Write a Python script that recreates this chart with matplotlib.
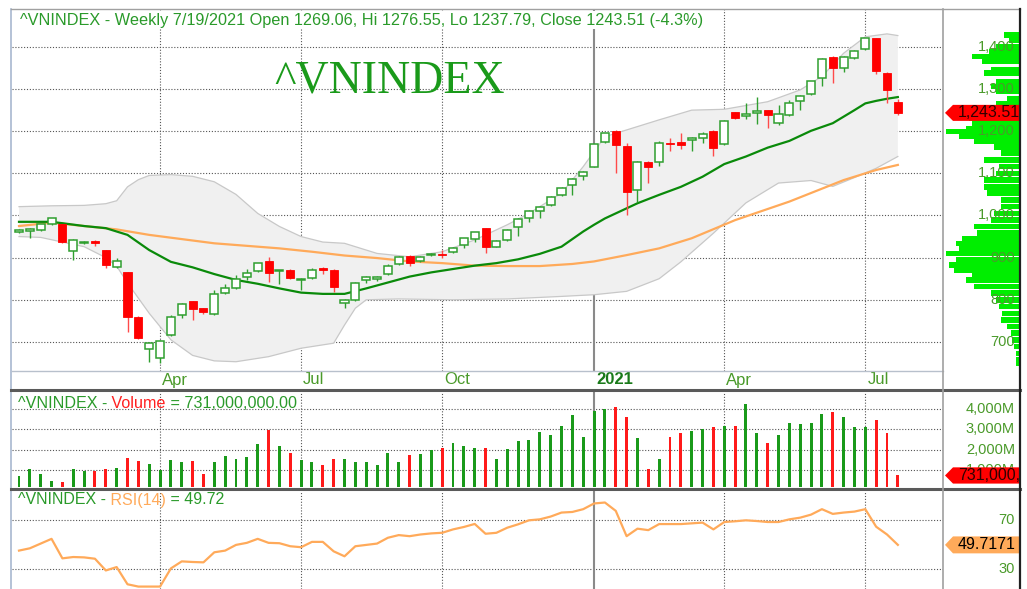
import numpy as np

import matplotlib
import matplotlib.pyplot as plt

from matplotlib.lines import Line2D
from matplotlib.patches import Polygon
from matplotlib.transforms import blended_transform_factory

matplotlib.use('Agg')

plt.rcParams['font.family'] = ['Liberation Sans', 'DejaVu Sans']

W, H = 1027, 589

# Weekly bars, 30 Dec 2019 .. 19 Jul 2021 (bar index on the x axis)
opens = [962, 963, 965, 979, 979, 916, 935, 940, 918, 877,
         865, 760, 684, 663, 716, 764, 796, 780, 766, 817,
         827, 853, 869, 891, 868, 871, 848, 851, 876, 871,
         793, 800, 846, 849, 861, 884, 905, 892, 906, 909,
         913, 930, 944, 970, 926, 942, 972, 993, 1011, 1025,
         1048, 1073, 1094, 1115, 1175, 1201, 1166, 1061, 1128, 1128,
         1172, 1175, 1180, 1185, 1201, 1170, 1245, 1237, 1244, 1250,
         1220, 1239, 1272, 1288, 1327, 1376, 1351, 1373, 1395, 1420,
         1339, 1269.06]
highs = [968, 970, 980, 995, 980, 944, 940, 941, 919, 898,
         866, 762, 700, 705, 764, 792, 797, 781, 823, 838,
         859, 872, 888, 902, 871, 872, 851, 876, 877, 872,
         803, 842, 857, 856, 885, 903, 906, 903, 912, 917,
         925, 947, 962, 971, 942, 967, 993, 1013, 1023, 1046,
         1067, 1088, 1106, 1170, 1196, 1202, 1171, 1130, 1129, 1177,
         1183, 1195, 1186, 1199, 1203, 1226, 1246, 1268, 1282, 1251,
         1262, 1273, 1286, 1320, 1374, 1378, 1379, 1393, 1421, 1422,
         1341, 1276.55]
lows = [958, 946, 964, 978, 935, 895, 933, 928, 875, 875,
        724, 708, 653, 649, 714, 756, 752, 767, 765, 814,
        825, 847, 867, 843, 838, 850, 823, 849, 861, 819,
        781, 798, 841, 845, 859, 882, 881, 890, 904, 900,
        911, 924, 936, 912, 925, 940, 952, 985, 993, 1023,
        1046, 1049, 1084, 1114, 1173, 1100, 1001, 1033, 1077, 1118,
        1152, 1157, 1154, 1173, 1140, 1168, 1228, 1228, 1217, 1207,
        1215, 1237, 1250, 1286, 1307, 1314, 1340, 1371, 1393, 1336,
        1266, 1237.79]
closes = [965, 969, 979, 993, 936, 942, 938, 934, 883, 892,
          760, 710, 698, 703, 759, 790, 778, 770, 814, 827,
          850, 864, 887, 864, 870, 851, 850, 871, 871, 830,
          800, 841, 853, 855, 879, 902, 888, 902, 909, 907,
          924, 946, 960, 926, 940, 966, 991, 1011, 1021, 1045,
          1066, 1086, 1104, 1169, 1195, 1167, 1055, 1128, 1114, 1173,
          1169, 1167, 1184, 1194, 1161, 1224, 1231, 1240, 1249, 1239,
          1241, 1266, 1284, 1319, 1372, 1351, 1377, 1391, 1420, 1344,
          1298, 1243.51]

# Volume, millions of shares
volumes = [720, 1040, 810, 460, 390, 1040, 940, 940, 1040, 1090,
           1590, 1430, 1320, 980, 1480, 1380, 1430, 780, 1370, 1710,
           1540, 1640, 2260, 2980, 2200, 1820, 1480, 1380, 1270, 1540,
           1530, 1370, 1370, 1250, 1850, 1370, 1760, 1800, 1980, 2080,
           2340, 2180, 2070, 2070, 1530, 2020, 2410, 2470, 2890, 2730,
           3190, 3710, 2620, 3930, 4000, 4100, 3610, 2570, 1040, 1530,
           2620, 2830, 2910, 3020, 3110, 3190, 3190, 4260, 2830, 2340,
           2730, 3330, 3270, 3330, 3760, 3840, 3590, 3110, 3110, 3480,
           2830, 731]

rsi = [45, 46.9, 50.8, 54.7, 38.6, 39.7, 39.4, 38.3, 28.6, 31.4,
       17.2, 15.3, 15.3, 15.3, 30.3, 36.1, 35.6, 35.3, 43.6, 45.0,
       49.7, 51.4, 54.7, 51.4, 51.1, 48.6, 47.8, 52.2, 52.2, 44.4,
       40.3, 48.6, 49.7, 50.8, 55.6, 57.8, 56.9, 58.3, 59.2, 59.7,
       62.5, 64.5, 67, 58.9, 59.7, 63.9, 66.7, 70, 70.8, 73.1,
       76.4, 76.9, 79.2, 83.9, 84.7, 77.8, 56.9, 63.1, 61.9, 66.9,
       66.9, 66.9, 67.5, 68.1, 62.5, 68.6, 69.2, 70, 69.4, 68.6,
       68.6, 70.8, 72.2, 74.7, 79.2, 75.3, 76.4, 77.2, 79.2, 64.7,
       58.3, 49.72]

ma20_idx = [0, 3, 6, 8, 10, 12, 14, 16, 18, 20, 22, 24, 26, 28, 30, 32, 34, 36, 38, 40,
            42, 44, 46, 48, 50, 52, 53, 54, 56, 57, 59, 61, 63, 65, 67, 69, 71, 73, 75, 77,
            78, 79, 80, 81]
ma20_val = [985, 985, 975, 970, 954, 918, 890, 877, 861, 847, 838, 827, 817, 814, 814, 827,
            841, 855, 865, 873, 881, 887, 896, 909, 926, 962, 978, 993, 1017, 1029, 1049,
            1068, 1092, 1122, 1140, 1161, 1177, 1201, 1219, 1250, 1266, 1272, 1277, 1281]

ma50_idx = [0, 3, 6, 9, 12, 15, 18, 21, 24, 27, 30, 33, 36, 39, 42, 45, 48, 51, 53, 56,
            59, 62, 66, 71, 76, 79, 81]
ma50_val = [975, 983, 975, 967, 954, 944, 934, 928, 922, 914, 905, 899, 891, 887, 881, 880,
            880, 885, 891, 906, 922, 946, 989, 1033, 1084, 1108, 1120]

bbu_idx = [0, 3, 6, 8, 9, 10, 11, 12, 14, 16, 18, 20, 22, 24, 26, 28, 30, 33, 36, 39,
           42, 45, 47, 50, 52, 54, 56, 59, 62, 65, 69, 72, 74, 76, 78, 80, 81]
bbu_val = [1021, 1023, 1024, 1028, 1035, 1068, 1085, 1095, 1097, 1093, 1080, 1050, 1005,
           974, 950, 937, 934, 910, 902, 914, 942, 978, 1005, 1053, 1116, 1187, 1203, 1227,
           1250, 1252, 1270, 1298, 1330, 1385, 1424, 1431, 1427]

bbl_idx = [0, 2, 6, 8, 9, 10, 12, 14, 16, 18, 20, 23, 26, 29, 30, 31, 32, 35, 40, 45,
           50, 53, 56, 59, 61, 64, 67, 70, 73, 75, 77, 79, 81]
bbl_val = [950, 948, 926, 900, 880, 840, 768, 705, 668, 655, 653, 665, 685, 697, 740, 780,
           800, 802, 800, 802, 808, 812, 820, 850, 890, 958, 1030, 1077, 1083, 1069, 1090,
           1112, 1140]

# Volume-at-price histogram (price level, relative size)
profile_price = [1428, 1417, 1401, 1389, 1377, 1365, 1345, 1338, 1318, 1306, 1294, 1278,
                 1266, 1254, 1242, 1230, 1219, 1207, 1199, 1187, 1175, 1163, 1148, 1132,
                 1116, 1100, 1084, 1068, 1053, 1037, 1021, 1005, 989, 974, 958, 946, 934,
                 922, 910, 895, 883, 871, 859, 847, 831, 816, 800, 784, 768, 752, 736, 721,
                 705, 689, 673, 657, 649]
profile_size = [15, 10, 23, 30, 47, 37, 28, 35, 23, 28, 23, 12, 23, 35, 45, 50, 47, 53, 73,
                60, 45, 25, 18, 35, 20, 23, 35, 35, 32, 18, 18, 25, 28, 45, 42, 57, 63, 60,
                73, 63, 70, 65, 47, 53, 45, 28, 23, 20, 17, 18, 12, 8, 7, 5, 3, 3, 3]

price_ticks = [700, 800, 900, 1000, 1100, 1200, 1300, 1400]
price_labels = ['700', '800', '900', '1,000', '1,100', '1,200', '1,300', '1,400']
volume_ticks = [1000, 2000, 3000, 4000]
volume_labels = ['1,000M', '2,000M', '3,000M', '4,000M']
rsi_ticks = [30, 70]

date_idx = [13, 26, 39, 53, 65, 78]
date_labels = ['Apr', 'Jul', 'Oct', '2021', 'Apr', 'Jul']

GREEN_TXT = '#2a9a2a'
AXIS_TXT = '#4a9a2a'
UP = '#2f9f2f'
DOWN = '#ff0000'
VOL_UP = '#1a9a1a'
ORANGE = '#ffaa5a'

x = np.arange(len(closes))
o = np.array(opens)
c = np.array(closes)
up = c >= o


def fx(px):
    return px / W


def fy(py):
    return 1 - py / H


def px_axes(x0, y0, x1, y1):
    ax = fig.add_axes([fx(x0), fy(y1), (x1 - x0) / W, (y1 - y0) / H])
    ax.axis('off')
    return ax


def fig_line(xs, ys, **kw):
    fig.add_artist(Line2D([fx(v) for v in xs], [fy(v) for v in ys], transform=fig.transFigure, **kw))


def colored_text(xp, yp, parts, size):
    renderer = fig.canvas.get_renderer()
    for s, col in parts:
        t = fig.text(fx(xp), fy(yp), s, color=col, fontsize=size, ha='left', va='center')
        xp += t.get_window_extent(renderer).width


def arrow_label(ax, y, half, text, face, txt_col='black'):
    pts = [(2, y), (10, y + half), (80, y + half), (80, y - half), (10, y - half)]
    ax.add_patch(Polygon(pts, closed=True, facecolor=face, edgecolor='none', zorder=5, clip_on=True))
    ax.text(15, y, text, ha='left', va='center', fontsize=11.5, color=txt_col, zorder=6, clip_on=True)


fig = plt.figure(figsize=(W / 100, H / 100), dpi=100)

ax_p = px_axes(12, 9, 943, 371)
ax_v = px_axes(12, 392, 943, 487)
ax_r = px_axes(12, 491, 943, 589)
ax_pp = px_axes(943, 9, 1019, 371)
ax_vr = px_axes(943, 392, 1019, 487)
ax_rr = px_axes(943, 491, 1019, 589)

xlim = (-0.645, 85.16)
for ax in [ax_p, ax_v, ax_r]:
    ax.set_xlim(*xlim)
    for i in date_idx:
        if i == 53:
            ax.axvline(i, color='#8a8a8a', lw=1.5, zorder=0.6)
        else:
            ax.axvline(i, color='#555555', lw=0.8, ls=(0, (1, 1.6)), zorder=0.6)

ax_p.set_ylim(631, 1490)
ax_v.set_ylim(163, 4842)
ax_r.set_ylim(13.3, 94.2)
for ax in [ax_pp, ax_vr, ax_rr]:
    ax.set_xlim(0, 76)
ax_pp.set_ylim(631, 1490)
ax_vr.set_ylim(163, 4842)
ax_rr.set_ylim(13.3, 94.2)

# price panel
for p in price_ticks:
    ax_p.axhline(p, color='#555555', lw=0.8, ls=(0, (1, 1.6)), zorder=0.5)

ax_p.fill(np.r_[bbu_idx, bbl_idx[::-1]], np.r_[bbu_val, bbl_val[::-1]], color='#f0f0f0', lw=0, zorder=1)
ax_p.plot(bbu_idx, bbu_val, color='#c8c8c8', lw=0.9, zorder=1.2)
ax_p.plot(bbl_idx, bbl_val, color='#c8c8c8', lw=0.9, zorder=1.2)
ax_p.plot(ma50_idx, ma50_val, color=ORANGE, lw=1.6, zorder=2)
ax_p.plot(ma20_idx, ma20_val, color='#0a8a0a', lw=1.6, zorder=2.1)

ax_p.vlines(x, lows, highs, colors=np.where(up, UP, '#ff4a4a'), lw=1.0, zorder=3)
body_h = np.maximum(np.abs(c - o), 1.5)
body_b = np.minimum(o, c)
ax_p.bar(x[up], body_h[up], bottom=body_b[up], width=0.74, facecolor='white',
         edgecolor=UP, lw=1.1, zorder=4)
ax_p.bar(x[~up], body_h[~up], bottom=body_b[~up], width=0.74, facecolor=DOWN,
         edgecolor=DOWN, lw=0.6, zorder=4)

# volume-at-price and price scale
ax_pp.barh(profile_price, profile_size, left=76 - np.array(profile_size), height=13,
           color='#00ee00', lw=0, zorder=1)
for p, lab in zip(price_ticks, price_labels):
    ax_pp.text(72, p, lab, ha='right', va='center', fontsize=10.5, color=AXIS_TXT, zorder=3)
arrow_label(ax_pp, closes[-1], 19, '1,243.51', '#ff0000', '#300000')

# volume panel
for v in volume_ticks:
    ax_v.axhline(v, color='#555555', lw=0.8, ls=(0, (1, 1.6)), zorder=0.5)
ax_v.bar(x, volumes, width=0.27, color=np.where(up, VOL_UP, '#ff1a1a'), zorder=2)
for v, lab in zip(volume_ticks, volume_labels):
    ax_vr.text(72, v, lab, ha='right', va='center', fontsize=10.5, color=AXIS_TXT, zorder=3)
arrow_label(ax_vr, volumes[-1], 400, '731,000,000', '#ff0000', '#300000')

# RSI panel
for r in rsi_ticks:
    ax_r.axhline(r, color='#555555', lw=0.8, ls=(0, (1, 1.6)), zorder=0.5)
ax_r.plot(x, rsi, color=ORANGE, lw=1.6, zorder=2)
for r in rsi_ticks:
    ax_rr.text(72, r, str(r), ha='right', va='center', fontsize=10.5, color=AXIS_TXT, zorder=3)
arrow_label(ax_rr, rsi[-1], 7, '49.7171', ORANGE)

# date row
tr = blended_transform_factory(ax_p.transData, fig.transFigure)
for i, lab in zip(date_idx, date_labels):
    bold = lab == '2021'
    ax_p.text(i + 0.2, fy(380), lab, transform=tr, ha='left', va='center', fontsize=12,
              color='#1a7a1a' if bold else AXIS_TXT, fontweight='bold' if bold else 'normal',
              clip_on=False)

# frame and separators
fig_line([11, 11], [9, 589], color='#a8b8d0', lw=1.2)
fig_line([11, 1020], [9, 9], color='#a0a0a0', lw=1.0)
fig_line([12, 943], [371, 371], color='#b8c0cc', lw=1.0)
fig_line([11, 1020], [390, 390], color='#5a5a5a', lw=2.2)
fig_line([11, 1020], [489, 489], color='#5a5a5a', lw=2.2)
fig_line([943, 943], [9, 589], color='#a0a0a0', lw=1.2)
fig_line([1020, 1020], [9, 589], color='#202020', lw=1.6)

# titles
fig.text(fx(20), fy(20), '^VNINDEX - Weekly 7/19/2021 Open 1269.06, Hi 1276.55, Lo 1237.79, '
         'Close 1243.51 (-4.3%)', color=GREEN_TXT, fontsize=11.7, ha='left', va='center',
         bbox=dict(facecolor='white', edgecolor='none', pad=1))
fig.text(fx(390), fy(81), '^VNINDEX', family='Liberation Serif', fontsize=33, color='#1a9a1a',
         ha='center', va='center')
colored_text(18, 404, [('^VNINDEX -', GREEN_TXT), (' Volume', '#ff2020'),
                       (' = 731,000,000.00', GREEN_TXT)], 11.6)
colored_text(18, 500, [('^VNINDEX -', GREEN_TXT), (' RSI(14)', ORANGE),
                       (' = 49.72', GREEN_TXT)], 11.5)

fig.savefig('out.png', dpi=100, facecolor='white')
